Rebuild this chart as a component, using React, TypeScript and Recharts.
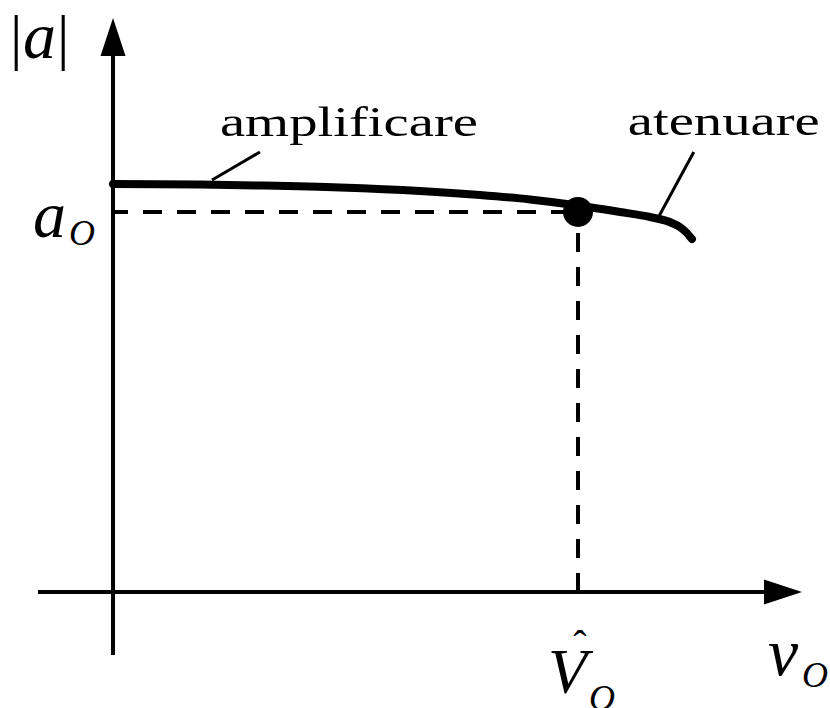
import React from 'react';
import { ComposedChart, Line, XAxis, YAxis, ReferenceLine, ReferenceDot } from 'recharts';

const WIDTH = 830;
const HEIGHT = 708;
const SERIF = 'Liberation Serif';

// |a| versus v_O, normalised so that V̂_O = 1 and a_0 = 1
const curveX = [0, 0.187, 0.316, 0.488, 0.66, 0.789, 0.897, 1.0, 1.09, 1.155, 1.202, 1.219, 1.232, 1.245];
const curveY = [1.0737, 1.0724, 1.0697, 1.0645, 1.0553, 1.0447, 1.0329, 1.0171, 1.0, 0.9868, 0.9711, 0.9605, 0.9474, 0.9289];

const A0 = 1;
const V_HAT = 1;

// axis extents (the arrows run to the ends)
const xRange: [number, number] = [-0.1613, 1.4817];
const yRange: [number, number] = [-0.1658, 1.5105];

// leader lines: first point on the curve, second under the label
const ampLeaderX = [0.213, 0.316];
const ampLeaderY = [1.084, 1.158];
const atenLeaderX = [1.172, 1.249];
const atenLeaderY = [0.984, 1.158];

const regionLabels = ['amplificare', 'atenuare'];

const curveData = curveX.map((x, i) => ({ x, y: curveY[i] }));

// axis line with a filled arrowhead at the far end
function ArrowAxis(props: any) {
  const { x1, y1, x2, y2 } = props;
  const dx = x2 - x1;
  const dy = y2 - y1;
  const len = Math.hypot(dx, dy) || 1;
  const ux = dx / len;
  const uy = dy / len;
  const headL = 38;
  const headW = 12.5;
  const bx = x2 - ux * headL;
  const by = y2 - uy * headL;
  const px = -uy;
  const py = ux;
  return (
    <g>
      <line x1={x1} y1={y1} x2={bx + ux * 2} y2={by + uy * 2} stroke="#000" strokeWidth={4} />
      <polygon
        points={`${x2},${y2} ${bx + px * headW},${by + py * headW} ${bx - px * headW},${by - py * headW}`}
        fill="#000"
      />
    </g>
  );
}

function YName({ cx, cy }: any) {
  return (
    <g>
      <text x={cx - 103} y={cy + 40} fontSize={62} fontFamily={SERIF} fill="#000">|</text>
      <text x={cx - 90} y={cy + 40} fontSize={66} fontFamily={SERIF} fontStyle="italic" fill="#000">a</text>
      <text x={cx - 56} y={cy + 40} fontSize={62} fontFamily={SERIF} fill="#000">|</text>
    </g>
  );
}

function XName({ cx, cy }: any) {
  return (
    <g>
      <text x={cx - 34} y={cy + 83} fontSize={68} fontFamily={SERIF} fontStyle="italic" fill="#000">v</text>
      <text x={cx} y={cy + 95} fontSize={36} fontFamily={SERIF} fontStyle="italic" fill="#000">O</text>
    </g>
  );
}

function A0Label({ cx, cy }: any) {
  return (
    <g>
      <text x={cx - 80} y={cy + 25} fontSize={66} fontFamily={SERIF} fontStyle="italic" fill="#000">a</text>
      <text x={cx - 44} y={cy + 33} fontSize={36} fontFamily={SERIF} fontStyle="italic" fill="#000">O</text>
    </g>
  );
}

function VHatLabel({ cx, cy }: any) {
  return (
    <g>
      <text x={cx + 2} y={cy + 66} fontSize={40} fontFamily={SERIF} textAnchor="middle" fill="#000">ˆ</text>
      <text x={cx - 30} y={cy + 101} fontSize={64} fontFamily={SERIF} fontStyle="italic" fill="#000">V</text>
      <text x={cx + 11} y={cy + 118} fontSize={36} fontFamily={SERIF} fontStyle="italic" fill="#000">O</text>
    </g>
  );
}

function RegionLabel({ cx, cy, text, dx, dy, len }: any) {
  return (
    <text
      x={cx + dx}
      y={cy + dy}
      fontFamily={SERIF}
      fontSize={42}
      fill="#000"
      textLength={len}
      lengthAdjust="spacingAndGlyphs"
    >
      {text}
    </text>
  );
}

export default function App() {
  return (
    <div style={{ position: 'absolute', left: 0, top: 0, width: WIDTH, height: HEIGHT, background: '#fff' }}>
      <ComposedChart
        width={WIDTH}
        height={HEIGHT}
        data={curveData}
        margin={{ top: 18, right: 28, bottom: 53, left: 38 }}
      >
        <XAxis type="number" dataKey="x" domain={xRange} allowDataOverflow hide />
        <YAxis type="number" domain={yRange} allowDataOverflow hide />

        {/* axes */}
        <ReferenceLine
          segment={[{ x: xRange[0], y: 0 }, { x: xRange[1], y: 0 }]}
          ifOverflow="visible"
          shape={(p: any) => <ArrowAxis {...p} />}
        />
        <ReferenceLine
          segment={[{ x: 0, y: yRange[0] }, { x: 0, y: yRange[1] }]}
          ifOverflow="visible"
          shape={(p: any) => <ArrowAxis {...p} />}
        />

        {/* guides to the operating point */}
        <ReferenceLine
          segment={[{ x: 0, y: A0 }, { x: V_HAT, y: A0 }]}
          ifOverflow="visible"
          stroke="#000"
          strokeWidth={4}
          strokeDasharray="19 15"
          strokeDashoffset={4}
        />
        <ReferenceLine
          segment={[{ x: V_HAT, y: 0 }, { x: V_HAT, y: A0 }]}
          ifOverflow="visible"
          stroke="#000"
          strokeWidth={4}
          strokeDasharray="19 15"
        />

        {/* leaders to the region labels */}
        <ReferenceLine
          segment={[{ x: ampLeaderX[0], y: ampLeaderY[0] }, { x: ampLeaderX[1], y: ampLeaderY[1] }]}
          ifOverflow="visible"
          stroke="#000"
          strokeWidth={3}
        />
        <ReferenceLine
          segment={[{ x: atenLeaderX[0], y: atenLeaderY[0] }, { x: atenLeaderX[1], y: atenLeaderY[1] }]}
          ifOverflow="visible"
          stroke="#000"
          strokeWidth={3}
        />

        <Line
          type="monotone"
          dataKey="y"
          stroke="#000"
          strokeWidth={8}
          strokeLinecap="round"
          dot={false}
          activeDot={false}
          isAnimationActive={false}
        />

        <ReferenceDot x={V_HAT} y={A0} r={15} fill="#000" stroke="none" ifOverflow="visible" />

        {/* text */}
        <ReferenceDot x={0} y={yRange[1]} r={0} ifOverflow="visible" shape={(p: any) => <YName {...p} />} />
        <ReferenceDot x={xRange[1]} y={0} r={0} ifOverflow="visible" shape={(p: any) => <XName {...p} />} />
        <ReferenceDot x={0} y={A0} r={0} ifOverflow="visible" shape={(p: any) => <A0Label {...p} />} />
        <ReferenceDot x={V_HAT} y={0} r={0} ifOverflow="visible" shape={(p: any) => <VHatLabel {...p} />} />
        <ReferenceDot
          x={ampLeaderX[1]}
          y={ampLeaderY[1]}
          r={0}
          ifOverflow="visible"
          shape={(p: any) => <RegionLabel {...p} text={regionLabels[0]} dx={-40} dy={-16} len={258} />}
        />
        <ReferenceDot
          x={atenLeaderX[1]}
          y={atenLeaderY[1]}
          r={0}
          ifOverflow="visible"
          shape={(p: any) => <RegionLabel {...p} text={regionLabels[1]} dx={-66} dy={-17} len={192} />}
        />
      </ComposedChart>
    </div>
  );
}
